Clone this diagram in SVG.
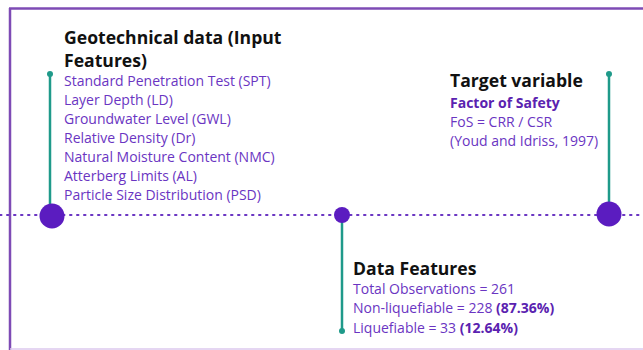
<svg xmlns="http://www.w3.org/2000/svg" width="643" height="350" viewBox="0 0 643 350">
<style>
.h{font-family:"Open Sans","Liberation Sans",sans-serif;font-weight:bold;font-size:17.6px;fill:#111}
.t{font-family:"Open Sans","Liberation Sans",sans-serif;font-size:14px;fill:#6a35c2}
.b{font-weight:bold;fill:#5a22b0}
.stem{stroke:#1f9a8a;stroke-width:2.5;fill:none}
.tip{fill:#1f9a8a}
.dot{fill:#5b1cc0}
</style>
<rect width="643" height="350" fill="#fff"/>
<g id="frame">
<line x1="9" y1="8.5" x2="643" y2="8.5" stroke="#7e4bb5" stroke-width="2.5"/>
<line x1="10" y1="8" x2="10" y2="350" stroke="#7e4bb5" stroke-width="2.5"/>
<line x1="10" y1="349" x2="643" y2="349" stroke="#dcc8ee" stroke-width="1.5"/>
</g>
<g id="connectors">
<line x1="0" y1="215" x2="643" y2="215" stroke="#6a35c2" stroke-width="2" stroke-dasharray="1.5 5.5" stroke-linecap="round"/>
<line class="stem" x1="50" y1="74" x2="50" y2="206"/>
<circle class="tip" cx="50" cy="74" r="3"/>
<line class="stem" x1="609" y1="74" x2="609" y2="204"/>
<circle class="tip" cx="609" cy="74" r="3"/>
<line class="stem" x1="342" y1="220" x2="342" y2="330"/>
<circle class="tip" cx="342" cy="331" r="3"/>
</g>
<g id="node-input">
<circle class="dot" cx="52" cy="216" r="12.5"/>
<text class="h" x="64" y="44">Geotechnical data (Input</text>
<text class="h" x="64" y="67">Features)</text>
<text class="t" x="64" y="86">Standard Penetration Test (SPT)</text>
<text class="t" x="64" y="105">Layer Depth (LD)</text>
<text class="t" x="64" y="124">Groundwater Level (GWL)</text>
<text class="t" x="64" y="143">Relative Density (Dr)</text>
<text class="t" x="64" y="162">Natural Moisture Content (NMC)</text>
<text class="t" x="64" y="181">Atterberg Limits (AL)</text>
<text class="t" x="64" y="200">Particle Size Distribution (PSD)</text>
</g>
<g id="node-target">
<circle class="dot" cx="609" cy="214" r="12.5"/>
<text class="h" x="450" y="87">Target variable</text>
<text class="t b" x="450" y="108">Factor of Safety</text>
<text class="t" x="450" y="127">FoS = CRR / CSR</text>
<text class="t" x="450" y="146">(Youd and Idriss, 1997)</text>
</g>
<g id="node-data">
<circle class="dot" cx="342" cy="215" r="8"/>
<text class="h" x="353" y="275">Data Features</text>
<text class="t" x="353" y="294">Total Observations = 261</text>
<text class="t" x="353" y="313">Non-liquefiable = 228 <tspan class="b">(87.36%)</tspan></text>
<text class="t" x="353" y="333">Liquefiable = 33 <tspan class="b">(12.64%)</tspan></text>
</g>
</svg>
